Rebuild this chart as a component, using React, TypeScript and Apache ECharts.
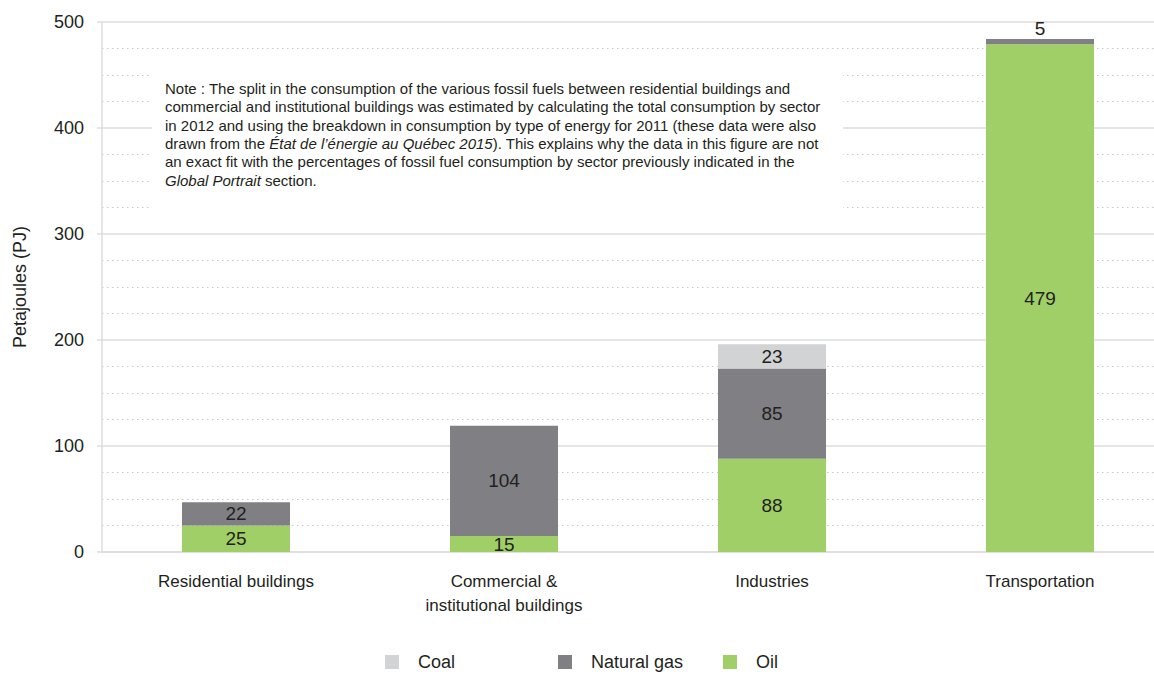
import React, { useEffect, useRef } from "react";
import * as echarts from "echarts";

const categories = [
  "Residential buildings",
  "Commercial &\ninstitutional buildings",
  "Industries",
  "Transportation",
];
const oilValues = [25, 15, 88, 479];
const gasValues = [22, 104, 85, 5];
const coalValues = [null, null, 23, null];
const yTicks = { min: 0, max: 500, interval: 100 };

const noteLines = [
  "Note : The split in the consumption of the various fossil fuels between residential buildings and",
  "commercial and institutional buildings was estimated by calculating the total consumption by sector",
  "in 2012 and using the breakdown in consumption by type of energy for 2011 (these data were also",
  "drawn from the {i|État de l’énergie au Québec 2015}). This explains why the data in this figure are not",
  "an exact fit with the percentages of fossil fuel consumption by sector previously indicated in the",
  "{i|Global Portrait} section.",
];

const COLORS = { oil: "#a1cf67", gas: "#808084", coal: "#d2d3d5" };
const TEXT = "#231f20";
const FONT = "'Liberation Sans', Arial, sans-serif";
const NARROW = "'Liberation Sans Narrow', 'Liberation Sans', sans-serif";

function toData(vals: (number | null)[]) {
  return vals.map((v) =>
    v !== null && v < 10
      ? { value: v, label: { position: "top", distance: 1 } }
      : v
  );
}

export default function App() {
  const ref = useRef<HTMLDivElement>(null);
  useEffect(() => {
    if (!ref.current) return;
    const chart = echarts.init(ref.current, null, { renderer: "svg" });
    const label = {
      show: true,
      position: "inside",
      color: TEXT,
      fontSize: 19,
      fontFamily: FONT,
    };
    const mkSeries = (name: string, vals: (number | null)[], color: string) => ({
      name,
      type: "bar",
      stack: "total",
      barWidth: 108,
      data: toData(vals),
      itemStyle: { color },
      label,
    });
    const legendBase = {
      top: 653,
      padding: 0,
      itemWidth: 14,
      itemHeight: 14,
      icon: "rect",
      textStyle: {
        fontSize: 18,
        color: TEXT,
        fontFamily: FONT,
        padding: [0, 0, 0, 14],
      },
    };
    chart.setOption({
      animation: false,
      backgroundColor: "#fff",
      grid: { left: 102, top: 22, width: 1072, height: 530, containLabel: false },
      legend: [
        { ...legendBase, left: 385, data: ["Coal"] },
        { ...legendBase, left: 558, data: ["Natural gas"] },
        { ...legendBase, left: 723, data: ["Oil"] },
      ],
      xAxis: {
        type: "category",
        data: categories,
        axisLine: { show: true, lineStyle: { color: "#dcdcdc", width: 1.5 } },
        axisTick: { show: false },
        axisLabel: {
          color: TEXT,
          fontSize: 17,
          fontFamily: FONT,
          margin: 17,
          lineHeight: 24,
          interval: 0,
        },
      },
      yAxis: {
        type: "value",
        min: yTicks.min,
        max: yTicks.max,
        interval: yTicks.interval,
        name: "Petajoules (PJ)",
        nameLocation: "middle",
        nameGap: 73,
        nameTextStyle: { color: TEXT, fontSize: 18, fontFamily: FONT },
        axisLine: { show: true, lineStyle: { color: "#dcdcdc", width: 1.5 } },
        axisTick: { show: true, length: 5, lineStyle: { color: "#dcdcdc", width: 1.5 } },
        axisLabel: { color: TEXT, fontSize: 18, fontFamily: FONT, margin: 18 },
        splitLine: { show: true, lineStyle: { color: "#dcdcdc", width: 1.5 } },
        minorTick: { show: false, splitNumber: 4 },
        minorSplitLine: {
          show: true,
          lineStyle: { color: "#c8c8c8", width: 1, type: [1.5, 3.5] },
        },
      },
      series: [
        mkSeries("Oil", oilValues, COLORS.oil),
        mkSeries("Natural gas", gasValues, COLORS.gas),
        mkSeries("Coal", coalValues, COLORS.coal),
      ],
      graphic: [
        {
          type: "rect",
          z: 100,
          shape: { x: 152, y: 55, width: 691, height: 160 },
          style: { fill: "#fff" },
        },
        {
          type: "text",
          z: 101,
          x: 165,
          y: 79,
          style: {
            text: noteLines.join("\n"),
            fill: TEXT,
            fontSize: 15,
            fontFamily: NARROW,
            lineHeight: 18.4,
            verticalAlign: "top",
            rich: {
              i: {
                fontStyle: "italic",
                fontSize: 15,
                fontFamily: NARROW,
                fill: TEXT,
                lineHeight: 18.4,
              },
            },
          },
        },
      ],
    });
    return () => chart.dispose();
  }, []);
  return (
    <div
      style={{
        position: "absolute",
        left: 0,
        top: 0,
        width: 1154,
        height: 677,
        overflow: "hidden",
      }}
    >
      <div ref={ref} style={{ width: 1174, height: 677 }} />
    </div>
  );
}
